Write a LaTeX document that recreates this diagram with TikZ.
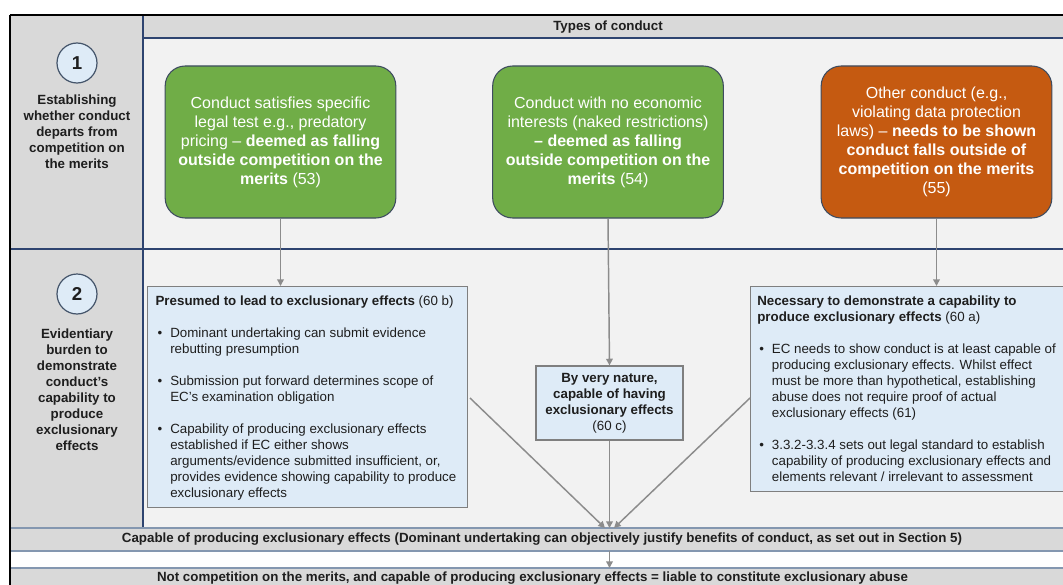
\documentclass[tikz,border=0pt]{standalone}
\usepackage{fontspec}
\setmainfont{Liberation Sans}
\usetikzlibrary{arrows.meta}
\definecolor{leftcol}{HTML}{D9D9D9}
\definecolor{rowbg}{HTML}{F2F2F2}
\definecolor{navy}{HTML}{2E4470}
\definecolor{gfill}{HTML}{70AD47}
\definecolor{ofill}{HTML}{C55A11}
\definecolor{rborder}{HTML}{3E4C60}
\definecolor{bfill}{HTML}{DEEBF7}
\definecolor{bborder}{HTML}{7F7F7F}
\definecolor{agrey}{HTML}{8C8C8C}
\definecolor{bandline}{HTML}{8497B0}
\definecolor{cborder}{HTML}{44546A}
\definecolor{tdark}{HTML}{1E1E1E}
\newcommand{\bpt}[1]{\par\hangindent=11pt\hangafter=1\noindent\hspace*{1.5pt}\makebox[9.5pt][l]{\textbullet}#1}
\newcommand{\tbox}[3]{\begin{minipage}[c][#2][t]{#1}\raggedright #3\end{minipage}}
\tikzset{
  rbox/.style={draw=rborder, line width=0.8pt, rounded corners=15pt, text=white,
    minimum width=173pt, minimum height=114pt, align=center,
    font=\fontsize{12}{14.25}\selectfont},
  bluebox/.style={draw=bborder, fill=bfill, line width=0.9pt, inner sep=0pt, text=tdark,
    font=\fontsize{10}{12}\selectfont},
  lbl/.style={align=center, text=tdark, font=\fontsize{10}{12}\selectfont\bfseries},
  numc/.style={circle, draw=cborder, fill=bfill, line width=0.9pt, minimum size=30pt,
    inner sep=0pt, font=\fontsize{14}{14}\selectfont\bfseries, text=tdark},
  arr/.style={draw=agrey, line width=1.1pt, -{Triangle[length=5pt,width=5pt]}},
  bandtxt/.style={text=tdark, font=\fontsize{10}{12}\selectfont\bfseries},
  grid/.style={draw=navy, line width=1pt},
  band/.style={draw=bandline, line width=1.2pt}
}
\begin{document}
\begin{tikzpicture}[x=0.75pt,y=-0.75pt]
\useasboundingbox (0,0) rectangle (1063,585);
\clip (0,0) rectangle (1063,585);
\fill[white] (0,0) rectangle (1063,585);
% backgrounds
\fill[rowbg] (143,38) rectangle (1080,528);
\fill[leftcol] (143,15) rectangle (1080,38);
\fill[leftcol] (10,15) rectangle (143,528);
\draw[grid] (143,15) -- (143,528);
\draw[grid] (143,38) -- (1080,38);
\draw[grid] (10,249) -- (1080,249);
% bands
\fill[leftcol] (10,528) rectangle (1080,551);
\fill[leftcol] (10,568) rectangle (1080,600);
\draw[band] (10,528) -- (1080,528);
\draw[band] (10,551) -- (1080,551);
\draw[band] (10,568) -- (1080,568);
% outer frame
\draw[black, line width=1.5pt] (10,15) -- (1080,15);
\draw[black, line width=0.8pt] (10,15) -- (10,600);
% header
\node[lbl] (hdr) at (608,27) {Types of conduct};
% left column
\node[numc] (c1) at (77,63) {1};
\node[lbl] (l1) at (77,132) {Establishing\\whether conduct\\departs from\\competition on\\the merits};
\node[numc] (c2) at (77,294) {2};
\node[lbl] (l2) at (77,390) {Evidentiary\\burden to\\demonstrate\\conduct's\\capability to\\produce\\exclusionary\\effects};
% top boxes
\node[rbox, fill=gfill] (g1) at (280.5,142) {Conduct satisfies specific\\legal test e.g., predatory\\pricing -- \textbf{deemed as falling}\\\textbf{outside competition on the}\\\textbf{merits} (53)};
\node[rbox, fill=gfill] (g2) at (608,142) {Conduct with no economic\\interests (naked restrictions)\\\textbf{-- deemed as falling}\\\textbf{outside competition on the}\\\textbf{merits} (54)};
\node[rbox, fill=ofill] (o1) at (936.5,142) {Other conduct (e.g.,\\violating data protection\\laws) -- \textbf{needs to be shown}\\\textbf{conduct falls outside of}\\\textbf{competition on the merits}\\(55)};
% blue boxes
\node[bluebox, anchor=north west] (pre) at (147,286) {\hspace*{6pt}\tbox{234pt}{165.75pt}{\vspace*{7pt}%
\textbf{Presumed to lead to exclusionary effects} (60 b)\par\vspace{12pt}%
\bpt{Dominant undertaking can submit evidence\newline rebutting presumption}\par\vspace{12pt}%
\bpt{Submission put forward determines scope of\newline EC's examination obligation}\par\vspace{12pt}%
\bpt{Capability of producing exclusionary effects\newline established if EC either shows\newline arguments/evidence submitted insufficient, or,\newline provides evidence showing capability to produce\newline exclusionary effects}}};
\node[bluebox, anchor=north west] (nec) at (750,286) {\hspace*{5pt}\tbox{238pt}{153.75pt}{\vspace*{7pt}%
\textbf{Necessary to demonstrate a capability to}\newline\textbf{produce exclusionary effects} (60 a)\par\vspace{12pt}%
\bpt{EC needs to show conduct is at least capable of\newline producing exclusionary effects. Whilst effect\newline must be more than hypothetical, establishing\newline abuse does not require proof of actual\newline exclusionary effects (61)}\par\vspace{12pt}%
\bpt{3.3.2-3.3.4 sets out legal standard to establish\newline capability of producing exclusionary effects and\newline elements relevant / irrelevant to assessment}}};
\node[bluebox, minimum width=110.25pt, minimum height=55.5pt, align=center] (nat) at (609.5,403) {\textbf{By very nature,}\\\textbf{capable of having}\\\textbf{exclusionary effects}\\(60 c)};
% bands text
\node[bandtxt] (cap) at (542,539.5) {Capable of producing exclusionary effects (Dominant undertaking can objectively justify benefits of conduct, as set out in Section 5)};
\node[bandtxt] (abuse) at (532.5,578) {Not competition on the merits, and capable of producing exclusionary effects = liable to constitute exclusionary abuse};
% coordinates
\coordinate (preR) at (470,398);
\coordinate (necL) at (750,398);
\coordinate (capL) at (605,528);
\coordinate (capM) at (609.5,528);
\coordinate (capR) at (614,528);
\coordinate (capB) at (609.5,551);
\coordinate (abT) at (609.5,568);
% arrows
\draw[arr] (g1.south) -- (g1.south |- pre.north);
\draw[arr] (g2.south) -- (nat.north);
\draw[arr] (o1.south) -- (o1.south |- nec.north);
\draw[arr] (preR) -- (capL);
\draw[arr] (nat.south) -- (capM);
\draw[arr] (necL) -- (capR);
\draw[arr] (capB) -- (abT);
\end{tikzpicture}
\end{document}
